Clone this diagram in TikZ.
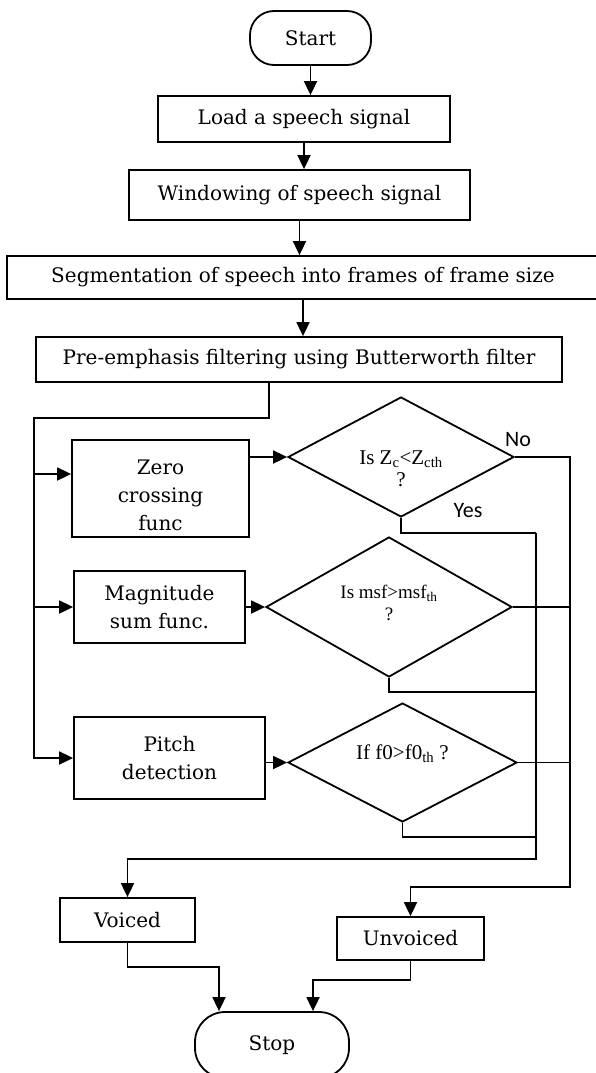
\documentclass[tikz,border=0pt]{standalone}
\usepackage{fontspec}
\setmainfont{DejaVu Serif}
\newfontfamily\timesfont{Liberation Serif}
\newfontfamily\calfont{Carlito}
\usetikzlibrary{shapes.geometric,arrows.meta}

\begin{document}
\begin{tikzpicture}[x=1pt,y=-1pt,line width=1.8pt,
  box/.style={draw,rectangle,inner sep=0pt,align=center,
    font=\fontsize{20}{28}\selectfont},
  term/.style={box,rounded corners=24pt},
  decide/.style={draw,diamond,inner sep=0pt},
  qtext/.style={align=center,inner sep=0pt,font=\timesfont\fontsize{21}{22}\selectfont},
  arr/.style={-{Triangle[length=14pt,width=13pt]}},
  yn/.style={inner sep=0pt,font=\calfont\fontsize{22}{22}\selectfont}]
  \useasboundingbox (0,0) rectangle (595,1073);

  \node[term,minimum width=121pt,minimum height=54pt] (start) at (310.5,38) {Start};
  \node[box,minimum width=292pt,minimum height=46pt] (load) at (304,119) {Load a speech signal};
  \node[box,minimum width=341pt,minimum height=50pt] (window) at (299.5,195) {Windowing of speech signal};
  \node[box,minimum width=592pt,minimum height=43pt] (segment) at (303,277.5) {Segmentation of speech into frames of frame size};
  \node[box,minimum width=526pt,minimum height=45pt] (preemph) at (299,359.5) {Pre-emphasis filtering using Butterworth filter};

  \node[box,minimum width=177pt,minimum height=97pt,
    label={[box,draw=none,yshift=-7pt]center:Zero\\crossing\\func}] (zero) at (160.5,488.5) {};
  \node[box,minimum width=171pt,minimum height=72pt] (mag) at (159.5,607) {Magnitude\\sum func.};
  \node[box,minimum width=191pt,minimum height=82pt] (pitch) at (169.5,758) {Pitch\\detection};

  \node[decide,minimum width=226pt,minimum height=120pt,
    label={[qtext,yshift=-12pt]center:Is Z\textsubscript{c}<Z\textsubscript{cth}\\?}] (zc) at (401,457) {};
  \node[decide,minimum width=246pt,minimum height=140pt,
    label={[qtext,yshift=4pt,font=\timesfont\fontsize{19}{22}\selectfont]center:Is msf>msf\textsubscript{th}\\?}] (msf) at (389,607) {};
  \node[decide,minimum width=229pt,minimum height=119pt,
    label={[qtext,yshift=9pt]center:If f0>f0\textsubscript{th} ?}] (fz) at (402.5,762.5) {};

  \node[yn] (no) at (518,440) {No};
  \node[yn] (yes) at (468,511) {Yes};

  \node[box,minimum width=135pt,minimum height=44pt] (voiced) at (127.5,920) {Voiced};
  \node[box,minimum width=147pt,minimum height=43pt] (unvoiced) at (410.5,938.5) {Unvoiced};
  \node[term,rounded corners=30pt,minimum width=154pt,minimum height=66pt] (stop) at (272,1045) {Stop};

  \draw[arr] (start.south) -- (start.south |- load.north);
  \draw[arr] (load.south) -- (load.south |- window.north);
  \draw[arr] (window.south) -- (window.south |- segment.north);
  \draw[arr] (segment.south) -- (segment.south |- preemph.north);

  \coordinate (fork) at (269,418);
  \coordinate (bus) at (34,418);
  \coordinate (zin) at (34,474);
  \draw[arr] (preemph.south -| fork) -- (fork) -- (bus) |- (pitch.west);
  \draw[arr] (zin) -- (zin -| zero.west);
  \draw[arr] (bus |- mag.west) -- (mag.west);

  \draw[arr] (zc.west -| zero.east) -- (zc.west);
  \draw[arr] (msf.west -| mag.east) -- (msf.west);
  \draw[arr] (fz.west -| pitch.east) -- (fz.west);

  \coordinate (nobus) at (570,887);
  \coordinate (yesbus) at (536,859);
  \coordinate (y1) at (536,533);
  \coordinate (y2) at (536,692);
  \coordinate (y3) at (536,837);
  \draw[arr] (zc.east) -| (nobus) -| (unvoiced.north);
  \draw (msf.east) -- (msf.east -| nobus);
  \draw (fz.east) -- (fz.east -| nobus);
  \draw (zc.south) |- (y1);
  \draw (msf.south) |- (y2);
  \draw (fz.south) |- (y3);
  \draw[arr] (y1) -- (yesbus) -| (voiced.north);

  \coordinate (vdrop) at (219,967);
  \coordinate (udrop) at (313,980);
  \draw[arr] (voiced.south) |- (vdrop) -- (vdrop |- stop.north);
  \draw[arr] (unvoiced.south) |- (udrop) -- (udrop |- stop.north);
\end{tikzpicture}
\end{document}
